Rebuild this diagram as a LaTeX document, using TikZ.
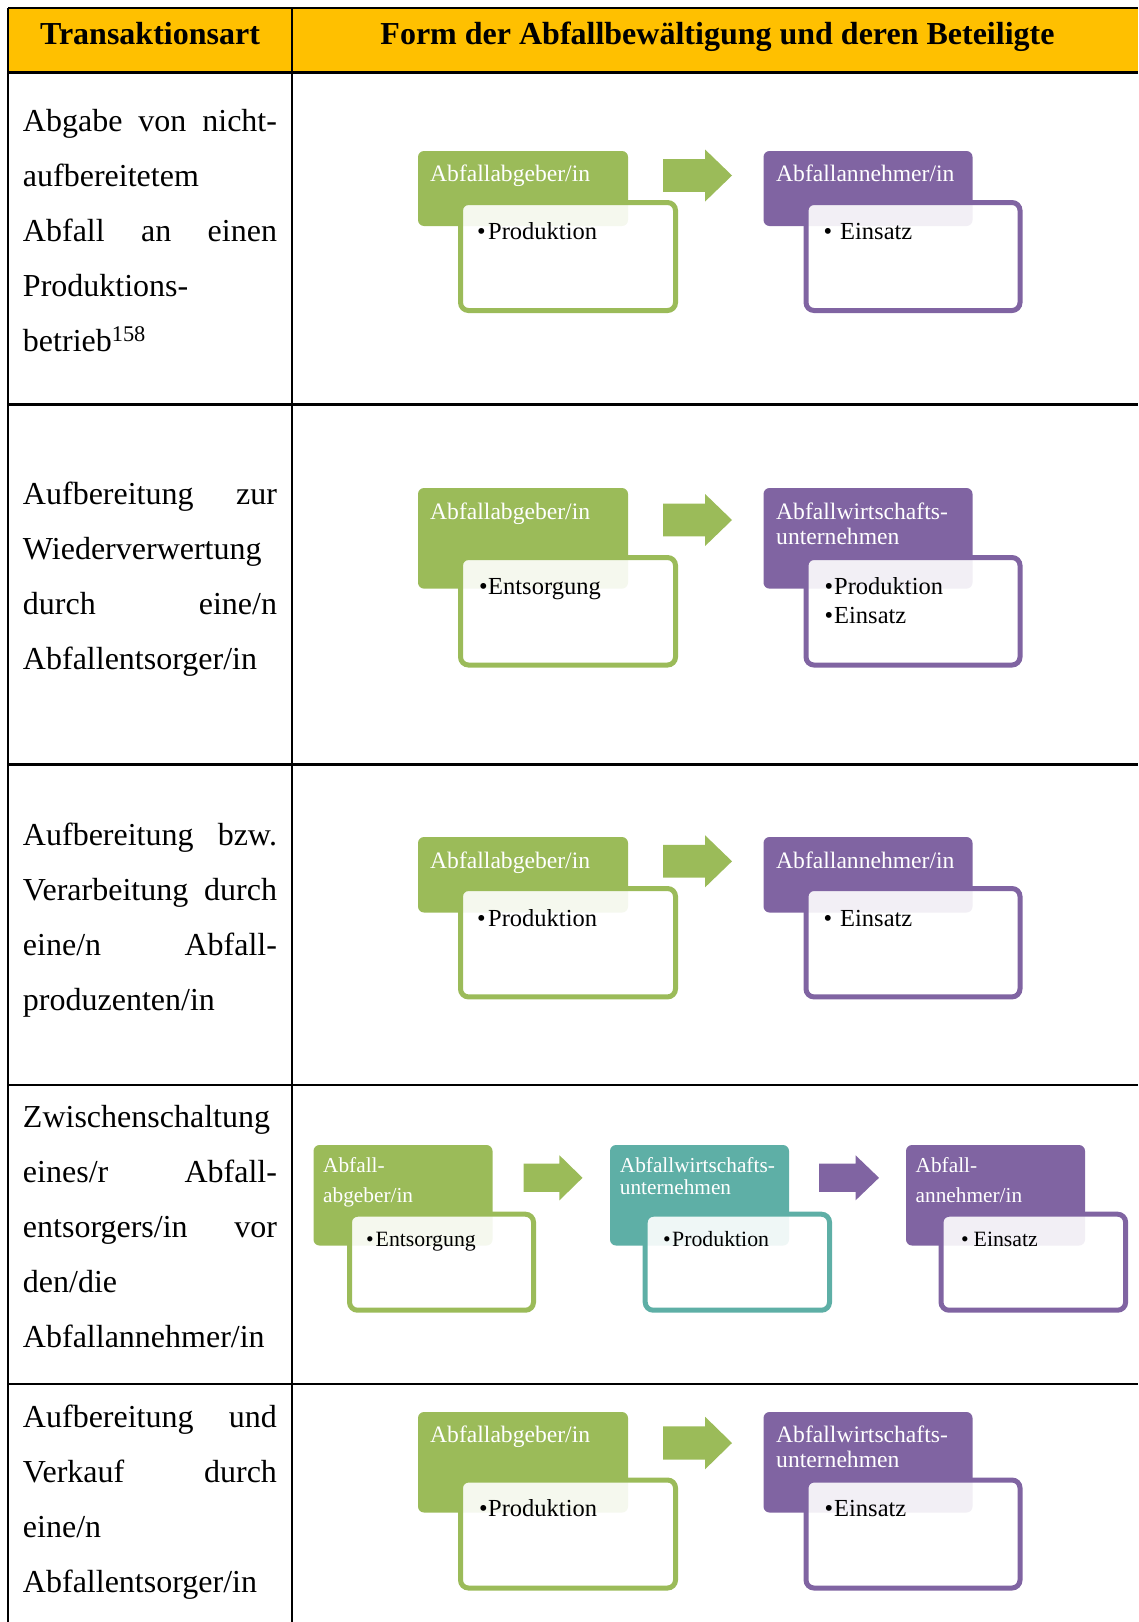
\documentclass[tikz,border=0pt]{standalone}
\usepackage{fontspec}
\setmainfont{Liberation Serif}
\definecolor{hdryellow}{HTML}{FFC000}
\definecolor{grn}{HTML}{9BBB59}
\definecolor{prp}{HTML}{8064A2}
\definecolor{tea}{HTML}{5EAFA6}
% a justified line of the left column: words spread over the full width
\newcommand{\jl}[1]{\makebox[254pt][l]{#1}}
\newcommand{\bul}[2]{\makebox[#1][l]{\textbullet}#2}
% block arrow: colour, left x, middle y, length, head height
\newcommand{\blockarrow}[5]{%
  \fill[#1] (#2,#3) ++(0,-0.315*#5) -- ++(0.61*#4,0) -- ++(0,-0.185*#5)
    -- ++(0.39*#4,0.5*#5) -- ++(-0.39*#4,0.5*#5) -- ++(0,-0.185*#5)
    -- ++(-0.61*#4,0) -- cycle;}
\begin{document}
\begin{tikzpicture}[x=1pt,y=-1pt,
  gridline/.style={line width=2.2pt,black},
  title/.style={font=\fontsize{32}{38}\selectfont\bfseries,anchor=base,inner sep=0pt},
  lefttext/.style={font=\fontsize{32}{55}\selectfont,anchor=base west,inner sep=0pt,
    text width=254pt,align=left},
  hdr/.style={rounded corners=6pt,anchor=north west,inner sep=0pt,draw=none,outer sep=0pt},
  bx/.style={rounded corners=8pt,anchor=north west,inner sep=0pt,line width=5pt,
    fill=white,fill opacity=0.9},
  htxt/.style={text=white,anchor=base west,inner sep=0pt,align=left,text width=200pt,
    font=\fontsize{23.6}{25}\selectfont},
  htxts/.style={text=white,anchor=base west,inner sep=0pt,align=left,text width=170pt,
    font=\fontsize{21.3}{30}\selectfont},
  btxt/.style={text=black,anchor=base west,inner sep=0pt,align=left,text width=190pt,
    font=\fontsize{24.5}{29}\selectfont},
  btxts/.style={text=black,anchor=base west,inner sep=0pt,align=left,text width=160pt,
    font=\fontsize{21.8}{26}\selectfont}]
\useasboundingbox (0,0) rectangle (1138,1622);

% table head and grid
\fill[hdryellow] (8.3,8.3) rectangle (1138,72.4);
\draw[gridline] (8.3,8.3) -- (1138,8.3);
\draw[gridline] (8.3,72.4) -- (1138,72.4);
\foreach \yy in {404.5,764.5,1085.2,1384.1}
  \draw[gridline] (8.3,\yy) -- (1138,\yy);
\draw[gridline] (8.3,8.3) -- (8.3,1622);
\draw[gridline] (291.7,8.3) -- (291.7,1622);

\node[title] (t1) at (150,44) {Transaktionsart};
\node[title] (t2) at (717.5,44) {Form der Abfallbewältigung und deren Beteiligte};

% left column
\node[lefttext] (l1) at (22.8,131) {\jl{Abgabe\hfill von\hfill nicht-}\\aufbereitetem\\\jl{Abfall\hfill an\hfill einen}\\Produktions-\\betrieb\textsuperscript{158}};
\node[lefttext] (l2) at (22.8,504.5) {\jl{Aufbereitung\hfill zur}\\Wiederverwertung\\\jl{durch\hfill eine/n}\\Abfallentsorger/in};
\node[lefttext] (l3) at (22.8,845) {\jl{Aufbereitung\hfill bzw.}\\\jl{Verarbeitung\hfill durch}\\\jl{eine/n\hfill Abfall-}\\produzenten/in};
\node[lefttext] (l4) at (22.8,1127) {Zwischenschaltung\\\jl{eines/r\hfill Abfall-}\\\jl{entsorgers/in\hfill vor}\\den/die\\Abfallannehmer/in};
\node[lefttext] (l5) at (22.8,1427) {\jl{Aufbereitung\hfill und}\\\jl{Verkauf\hfill durch}\\eine/n\\Abfallentsorger/in};

% row 1
\node[hdr,fill=grn,minimum width=210pt,minimum height=75pt] (h1g) at (418,151) {};
\node[bx,draw=grn,minimum width=215pt,minimum height=108pt] (b1g) at (458,200) {};
\node[htxt] (h1gt) at (430,181) {Abfallabgeber/in};
\node[btxt] (b1gt) at (477,239.5) {\bul{11pt}{Produktion}};
\blockarrow{grn}{663}{175.5}{69}{52}
\node[hdr,fill=prp,minimum width=209pt,minimum height=75pt] (h1p) at (763.5,151) {};
\node[bx,draw=prp,minimum width=214pt,minimum height=108pt] (b1p) at (803.5,200) {};
\node[htxt] (h1pt) at (776,181) {Abfallannehmer/in};
\node[btxt] (b1pt) at (823.5,239.5) {\bul{16.5pt}{Einsatz}};

% row 2
\node[hdr,fill=grn,minimum width=210pt,minimum height=100.6pt] (h2g) at (418,488) {};
\node[bx,draw=grn,minimum width=215pt,minimum height=107.5pt] (b2g) at (458,555) {};
\node[htxt] (h2gt) at (430,519) {Abfallabgeber/in};
\node[btxt] (b2gt) at (479,594) {\bul{9pt}{Entsorgung}};
\blockarrow{grn}{663}{520}{69}{52}
\node[hdr,fill=prp,minimum width=209pt,minimum height=100.6pt] (h2p) at (763.5,488) {};
\node[bx,draw=prp,minimum width=214pt,minimum height=107.5pt] (b2p) at (803.5,555) {};
\node[htxt] (h2pt) at (776,519) {Abfallwirtschafts-\\unternehmen};
\node[btxt] (b2pt) at (824.5,594) {\bul{9.5pt}{Produktion}\\\bul{9.5pt}{Einsatz}};

% row 3
\node[hdr,fill=grn,minimum width=210pt,minimum height=75.5pt] (h3g) at (418,837) {};
\node[bx,draw=grn,minimum width=215pt,minimum height=108.4pt] (b3g) at (458,886) {};
\node[htxt] (h3gt) at (430,868) {Abfallabgeber/in};
\node[btxt] (b3gt) at (477,926) {\bul{11pt}{Produktion}};
\blockarrow{grn}{663}{861.3}{69}{52}
\node[hdr,fill=prp,minimum width=209pt,minimum height=75.5pt] (h3p) at (763.5,837) {};
\node[bx,draw=prp,minimum width=214pt,minimum height=108.4pt] (b3p) at (803.5,886) {};
\node[htxt] (h3pt) at (776,868) {Abfallannehmer/in};
\node[btxt] (b3pt) at (823.5,926) {\bul{16.5pt}{Einsatz}};

% row 4
\node[hdr,fill=grn,minimum width=179pt,minimum height=100.5pt] (h4g) at (313.5,1145) {};
\node[bx,draw=grn,minimum width=184pt,minimum height=96pt] (b4g) at (347,1211.7) {};
\node[htxts] (h4gt) at (323,1172.5) {Abfall-\\abgeber/in};
\node[btxts] (b4gt) at (366,1246) {\bul{9.5pt}{Entsorgung}};
\blockarrow{grn}{523.5}{1177.8}{59}{45}
\node[hdr,fill=tea,minimum width=179pt,minimum height=100.5pt] (h4t) at (610,1145) {};
\node[bx,draw=tea,minimum width=184.3pt,minimum height=96pt] (b4t) at (642.7,1211.7) {};
\node[htxts,font=\fontsize{21.3}{21.6}\selectfont] (h4tt) at (619.7,1172.5) {Abfallwirtschafts-\\unternehmen};
\node[btxts] (b4tt) at (663,1246) {\bul{9pt}{Produktion}};
\blockarrow{prp}{819}{1177.8}{60}{45}
\node[hdr,fill=prp,minimum width=179pt,minimum height=100.5pt] (h4p) at (906,1145) {};
\node[bx,draw=prp,minimum width=184.6pt,minimum height=96pt] (b4p) at (938.5,1211.7) {};
\node[htxts] (h4pt) at (915.5,1172.5) {Abfall-\\annehmer/in};
\node[btxts] (b4pt) at (961,1246) {\bul{12.5pt}{Einsatz}};

% row 5
\node[hdr,fill=grn,minimum width=210pt,minimum height=100.5pt] (h5g) at (418,1412) {};
\node[bx,draw=grn,minimum width=215pt,minimum height=108pt] (b5g) at (458,1477.5) {};
\node[htxt] (h5gt) at (430,1442) {Abfallabgeber/in};
\node[btxt] (b5gt) at (479,1516) {\bul{9pt}{Produktion}};
\blockarrow{grn}{663}{1443}{69}{52.5}
\node[hdr,fill=prp,minimum width=209pt,minimum height=100.5pt] (h5p) at (763.5,1412) {};
\node[bx,draw=prp,minimum width=214pt,minimum height=108pt] (b5p) at (803.5,1477.5) {};
\node[htxt] (h5pt) at (776,1442) {Abfallwirtschafts-\\unternehmen};
\node[btxt] (b5pt) at (824.5,1516) {\bul{9.5pt}{Einsatz}};
\end{tikzpicture}
\end{document}
